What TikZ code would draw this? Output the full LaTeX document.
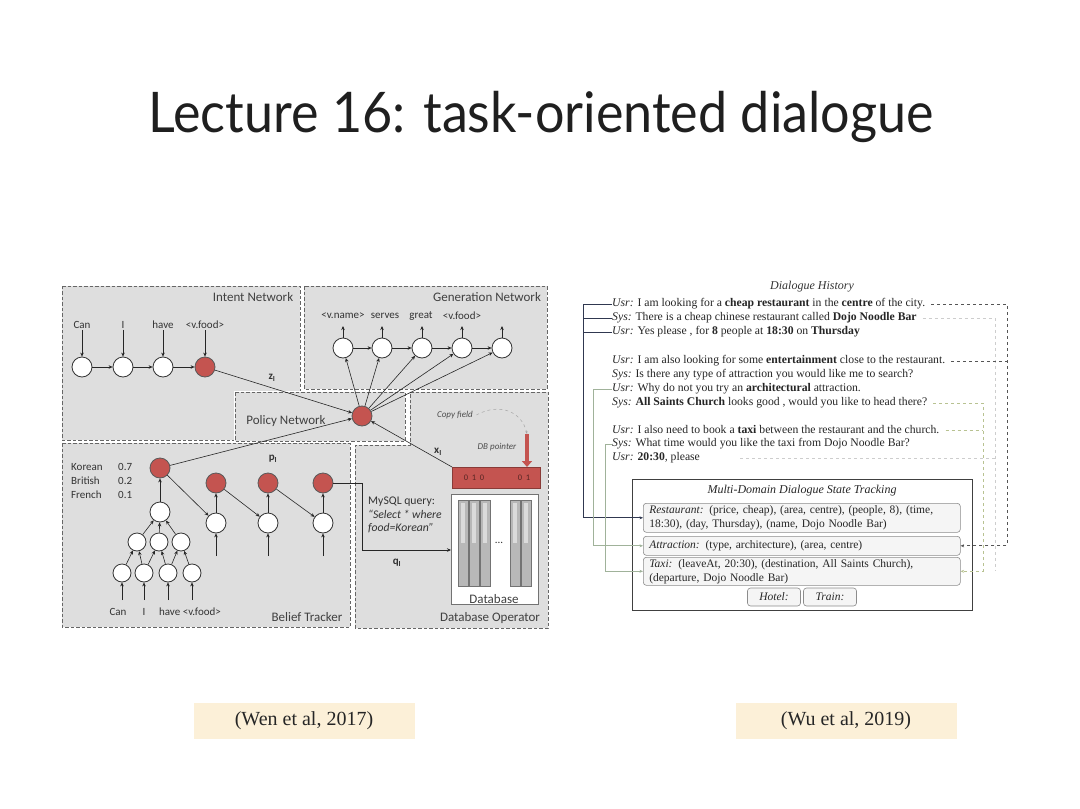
\documentclass[tikz,border=0pt]{standalone}
\usepackage{fontspec}
\setmainfont{Liberation Serif}
\newfontfamily\carl{Carlito}
\newfontfamily\latof{Lato}
\usetikzlibrary{arrows.meta,calc}
\definecolor{rd}{RGB}{196,84,80}
\definecolor{pnl}{RGB}{222,222,222}
\definecolor{peach}{RGB}{252,240,216}
\definecolor{dkl}{RGB}{48,56,80}
\definecolor{lgl}{RGB}{160,178,154}
\definecolor{ddl}{RGB}{85,85,85}
\definecolor{lyl}{RGB}{184,194,145}
\definecolor{fal}{RGB}{205,205,205}
\tikzset{
 panel/.style={fill=pnl, draw=black!60, dash pattern=on 3.5pt off 2pt, line width=0.7pt},
 wn/.style={circle, draw=black!80, fill=white, line width=0.8pt, minimum size=20pt, inner sep=0pt},
 rn/.style={wn, fill=rd, draw=black!65},
 sn/.style={wn, minimum size=18pt},
 arr/.style={-{Stealth[length=4pt,width=3.5pt]}, line width=0.6pt, draw=black!85},
 lab/.style={font=\carl\fontsize{13}{15}\selectfont, text=black!75, inner sep=0pt},
 wd/.style={font=\carl\fontsize{11}{13}\selectfont, text=black!80, inner sep=1pt},
 hist/.style={font=\fontsize{11.7}{14}\selectfont, anchor=west, inner sep=0pt, text=black!85},
 sbox/.style={draw=black!45, fill=black!4, rounded corners=3pt, line width=0.6pt, anchor=north west,
   inner xsep=6pt, inner ysep=1pt, align=left, font=\fontsize{11.5}{14}\selectfont, text=black!85},
 rarr/.style={-{Stealth[length=3.5pt,width=3pt]}, line width=0.7pt},
 cite/.style={fill=peach, minimum width=221pt, minimum height=36pt, font=\fontsize{20}{24}\selectfont, text=black!85}
}
\begin{document}
\begin{tikzpicture}[x=1pt,y=-1pt]
\useasboundingbox (0,0) rectangle (1080,809);
\fill[white] (0,0) rectangle (1080,809);
% title
\node[font=\latof\fontsize{56}{60}\selectfont, text=black!88, anchor=base, inner sep=0pt, xscale=0.93] (title) at (541,132) {Lecture 16: task-oriented dialogue};

% ---------------- Wen et al panels
\fill[white] (60,284) rectangle (550,630);
\draw[panel] (62,286) -- (300,286) -- (300,440) -- (62,440) -- cycle;
\draw[panel] (304,286) rectangle (547,389);
\draw[panel] (62,443) rectangle (350,627);
\draw[panel] (410,392) -- (548,392) -- (548,628) -- (355,628) -- (355,445) -- (410,445) -- cycle;
\draw[panel, draw=white, solid, line width=2pt] (235,392) rectangle (405,441);
\draw[panel] (235,392) rectangle (405,441);

\node[lab] (lint) at (253,297) {Intent Network};
\node[lab] (lgen) at (487,297) {Generation Network};
\node[lab] (lpol) at (286,421) {Policy Network};
\node[lab] (lbel) at (307,617) {Belief Tracker};
\node[lab] (ldbo) at (490,618) {Database Operator};

% intent network
\node[wn] (i1) at (82,367) {};
\node[wn] (i2) at (123,367) {};
\node[wn] (i3) at (163,367) {};
\node[rn] (i4) at (205,367) {};
\node[wd] (wi1) at (82,325) {Can};
\node[wd] (wi2) at (123,325) {I};
\node[wd] (wi3) at (163,325) {have};
\node[wd] (wi4) at (205,325) {<v.food>};
\foreach \k in {1,...,4} {\draw[arr] (wi\k) -- (i\k);}
\draw[arr] (i1) -- (i2);
\draw[arr] (i2) -- (i3);
\draw[arr] (i3) -- (i4);

% generation network
\node[wn] (g1) at (343,348) {};
\node[wn] (g2) at (382,348) {};
\node[wn] (g3) at (422,348) {};
\node[wn] (g4) at (462,348) {};
\node[wn] (g5) at (502,348) {};
\node[wd] (wg1) at (343,316) {<v.name>};
\node[wd] (wg2) at (385,316) {serves};
\node[wd] (wg3) at (421,316) {great};
\node[wd] (wg4) at (462,316) {<v.food>};
\coordinate (gt1) at (343,326);
\coordinate (gt2) at (382,326);
\coordinate (gt3) at (422,326);
\coordinate (gt4) at (462,326);
\coordinate (gt5) at (502,326);
\foreach \k in {1,...,5} {\draw[arr] (g\k) -- (gt\k);}
\draw[arr] (g1) -- (g2);
\draw[arr] (g2) -- (g3);
\draw[arr] (g3) -- (g4);
\draw[arr] (g4) -- (g5);

% policy
\node[rn] (p) at (362,416) {};
\foreach \k in {1,...,5} {\draw[arr] (p) -- (g\k);}
\draw[arr] (i4) -- (p);
\node[wd, font=\carl\bfseries\fontsize{11}{13}\selectfont] (zl) at (272,378) {z\textsubscript{I}};

% belief tracker
\node[rn] (b1) at (160,468) {};
\node[rn] (b2) at (216,483) {};
\node[rn] (b3) at (268,483) {};
\node[rn] (b4) at (323,483) {};
\node[wn] (s2) at (216,523) {};
\node[wn] (s3) at (268,523) {};
\node[wn] (s4) at (323,523) {};
\node[wn] (t0) at (160,512) {};
\node[sn] (m1) at (137,542) {};
\node[sn] (m2) at (159,542) {};
\node[sn] (m3) at (181,542) {};
\node[sn] (l1) at (122,573) {};
\node[sn] (l2) at (144,573) {};
\node[sn] (l3) at (168,573) {};
\node[sn] (l4) at (192,573) {};
\draw[arr] (t0) -- (b1);
\draw[arr] (b1) -- (s2);
\draw[arr] (b2) -- (s3);
\draw[arr] (b3) -- (s4);
\draw[arr] (s2) -- (b2);
\draw[arr] (s3) -- (b3);
\draw[arr] (s4) -- (b4);
\foreach \k in {1,2,3} {\draw[arr] (m\k) -- (t0);}
\draw[arr] (l1) -- (m1);
\draw[arr] (l2) -- (m1);
\draw[arr] (l2) -- (m2);
\draw[arr] (l3) -- (m2);
\draw[arr] (l3) -- (m3);
\draw[arr] (l4) -- (m3);
\coordinate (si2) at (216,556);
\coordinate (si3) at (268,556);
\coordinate (si4) at (323,556);
\foreach \k in {2,3,4} {\draw[arr] (si\k) -- (s\k);}
\coordinate (li1) at (122,600);
\coordinate (li2) at (144,600);
\coordinate (li3) at (168,600);
\coordinate (li4) at (192,600);
\foreach \k in {1,...,4} {\draw[arr] (li\k) -- (l\k);}
\node[wd] (wb1) at (118,612) {Can};
\node[wd] (wb2) at (144,612) {I};
\node[wd] (wb3) at (190,612) {have <v.food>};
\draw[arr] (b1) -- (p);
\node[wd, font=\carl\bfseries\fontsize{11}{13}\selectfont] (pl) at (273,459) {p\textsubscript{I}};
\node[wd, anchor=west] (k1) at (70,467) {Korean};
\node[wd, anchor=west] (k2) at (70,481) {British};
\node[wd, anchor=west] (k3) at (70,495) {French};
\node[wd, anchor=west] (v1) at (117,467) {0.7};
\node[wd, anchor=west] (v2) at (117,481) {0.2};
\node[wd, anchor=west] (v3) at (117,495) {0.1};

% database operator
\node[fill=rd, draw=rd!70!black, line width=0.6pt, minimum width=88pt, minimum height=21pt, anchor=north west, inner sep=0pt] (bar) at (452,467) {};
\node[font=\carl\fontsize{8.5}{9}\selectfont, text=rd!45!black] (bt1) at (474,478) {0\;\,1\;\,0};
\node[font=\carl\fontsize{8.5}{9}\selectfont, text=rd!45!black] (bt2) at (524,478) {0\;\,1};
\node[draw=black!55, fill=white, line width=0.6pt, minimum width=87pt, minimum height=110pt, anchor=north west, inner sep=0pt] (db) at (451,494) {};
\foreach \xa in {458,469,480,510,521} {
  \draw[fill=black!28, draw=black!55, line width=0.5pt] (\xa,500) rectangle ++(10,86);
  \fill[black!14] (\xa+3,503) rectangle ++(4,40);
}
\node[wd] (dots) at (499,543) {...};
\node[lab] (ldb) at (494,599) {Database};
\draw[arr] (bar.north west) -- (p);
\node[wd, font=\carl\bfseries\fontsize{11}{13}\selectfont] (xl) at (438,452) {x\textsubscript{I}};
\coordinate (qc) at (362,550);
\draw[arr] (b4) -- (b4 -| qc) -- (qc) -- (qc -| db.west);
\node[wd, font=\carl\bfseries\fontsize{11}{13}\selectfont] (ql) at (397,563) {q\textsubscript{I}};
\node[font=\carl\fontsize{11.7}{13.5}\selectfont, text=black!80, anchor=north west, align=left, inner sep=0pt] (sql) at (368,497) {MySQL query:\\\itshape “Select * where\\\itshape food=Korean”};
\node[font=\carl\itshape\fontsize{9}{10}\selectfont, text=black!70] (cf) at (455,415) {Copy field};
\node[font=\carl\itshape\fontsize{9}{10}\selectfont, text=black!70] (dbp) at (497,447) {DB pointer};
\coordinate (dpt) at (527,434);
\draw[dashed, black!35, line width=0.5pt, -{Stealth[length=3pt]}] (cf.east) .. controls (500,402) and (522,412) .. (dpt);
\draw[line width=3.5pt, rd, -{Triangle[length=6pt,width=10pt]}] (dpt) -- (dpt |- bar.north);

% ---------------- Wu et al
\node[font=\itshape\fontsize{12}{13}\selectfont, text=black!80] (dh) at (812,287) {Dialogue History};
\node[hist] (h1) at (612,304) {\textit{Usr:} I am looking for a \textbf{cheap restaurant} in the \textbf{centre} of the city.};
\node[hist] (h2) at (612,318) {\textit{Sys:} There is a cheap chinese restaurant called \textbf{Dojo Noodle Bar}};
\node[hist] (h3) at (612,332) {\textit{Usr:} Yes please , for \textbf{8} people at \textbf{18:30} on \textbf{Thursday}};
\node[hist] (h4) at (612,361) {\textit{Usr:} I am also looking for some \textbf{entertainment} close to the restaurant.};
\node[hist] (h5) at (612,375) {\textit{Sys:} Is there any type of attraction you would like me to search?};
\node[hist] (h6) at (612,389) {\textit{Usr:} Why do not you try an \textbf{architectural} attraction.};
\node[hist] (h7) at (612,403) {\textit{Sys:} \textbf{All Saints Church} looks good , would you like to head there?};
\node[hist] (h8) at (612,430) {\textit{Usr:} I also need to book a \textbf{taxi} between the restaurant and the church.};
\node[hist] (h9) at (612,444) {\textit{Sys:} What time would you like the taxi from Dojo Noodle Bar?};
\node[hist] (h10) at (612,458) {\textit{Usr:} \textbf{20:30}, please};

\node[draw=black!75, fill=white, line width=0.8pt, minimum width=340pt, minimum height=131pt, anchor=north west, inner sep=0pt] (mdst) at (632,479) {};
\node[font=\itshape\fontsize{12}{13}\selectfont, text=black!85] (mt) at (802,491) {Multi-Domain Dialogue State Tracking};
\node[sbox, text width=305pt, minimum height=29pt] (rest) at (643,503) {\textit{Restaurant:} (price, cheap), (area, centre), (people, 8), (time,\\18:30), (day, Thursday), (name, Dojo Noodle Bar)};
\node[sbox, text width=305pt, minimum height=19pt] (attr) at (643,536) {\textit{Attraction:} (type, architecture), (area, centre)};
\node[sbox, text width=305pt, minimum height=28pt] (taxi) at (643,557) {\textit{Taxi:} (leaveAt, 20:30), (destination, All Saints Church),\\(departure, Dojo Noodle Bar)};
\node[sbox, anchor=center, align=center, text width=41pt, minimum height=18pt] (hotel) at (774,597) {\textit{Hotel:}};
\node[sbox, anchor=center, align=center, text width=41pt, minimum height=18pt] (train) at (830,597) {\textit{Train:}};

% left connectors
\draw[dkl, line width=0.8pt, rarr] (h1.west) -- ++(-29,0) |- (rest.west);
\draw[dkl, line width=0.8pt] (h2.west) -- ++(-29,0);
\draw[dkl, line width=0.8pt] (h3.west) -- ++(-29,0);
\draw[lgl, rarr] (h6.west) -- ++(-19,0) |- (attr.west);
\draw[lgl, rarr] (h9.west) -- ++(-7,0) |- (taxi.west);
% right connectors
\coordinate (ra) at (1007,0);
\coordinate (rb) at (983,0);
\coordinate (rc) at (995,0);
\draw[fal, dashed, line width=0.6pt] ([xshift=6pt]h2.east) -- (h2.east -| rc) -- (rc |- taxi.east);
\draw[fal, dashed, line width=0.6pt] ([xshift=40pt]h10.east) -- (h10.east -| rc);
\draw[ddl, dashed, rarr] ([xshift=6pt]h1.east) -- (h1.east -| ra) |- (attr.east);
\draw[ddl, dashed, line width=0.7pt] ([xshift=6pt]h4.east) -- (h4.east -| ra);
\draw[lyl, dashed, rarr] ([xshift=6pt]h7.east) -- (h7.east -| rb) |- (taxi.east);
\draw[lyl, dashed, line width=0.7pt] ([xshift=6pt]h8.east) -- (h8.east -| rb);

% citations
\node[cite] (wen) at (304,721) {(Wen et al, 2017)};
\node[cite] (wu) at (846,721) {(Wu et al, 2019)};
\end{tikzpicture}
\end{document}
